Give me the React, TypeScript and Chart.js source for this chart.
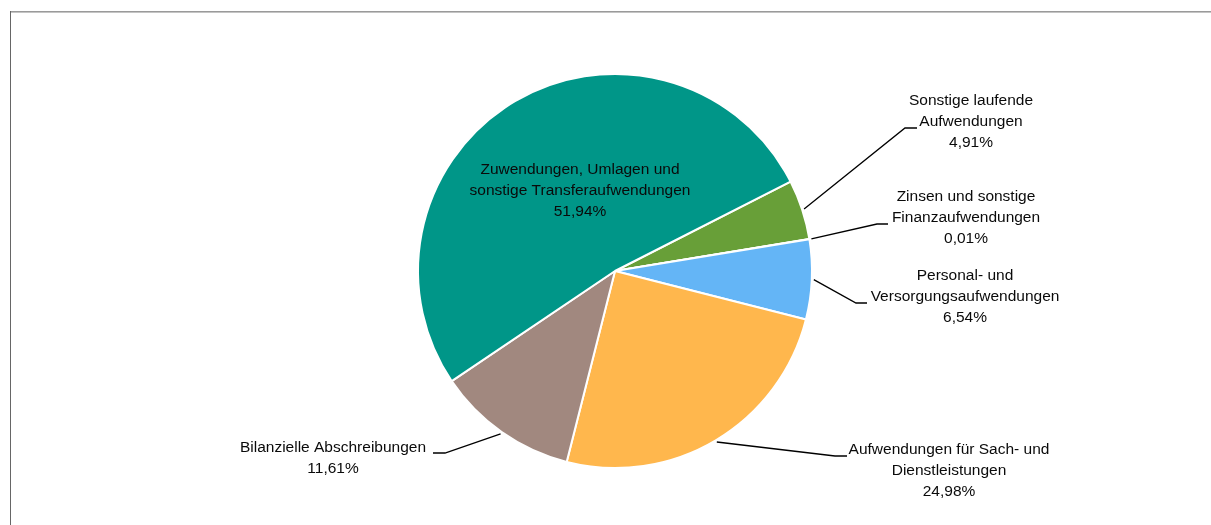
import React, { useEffect, useRef } from "react";
import { Chart, registerables } from "chart.js";

Chart.register(...registerables);

const categories = [
  "Sonstige laufende Aufwendungen",
  "Zinsen und sonstige Finanzaufwendungen",
  "Personal- und Versorgungsaufwendungen",
  "Aufwendungen für Sach- und Dienstleistungen",
  "Bilanzielle Abschreibungen",
  "Zuwendungen, Umlagen und sonstige Transferaufwendungen",
];

const labelLines = [
  ["Sonstige laufende", "Aufwendungen"],
  ["Zinsen und sonstige", "Finanzaufwendungen"],
  ["Personal- und", "Versorgungsaufwendungen"],
  ["Aufwendungen für Sach- und", "Dienstleistungen"],
  ["Bilanzielle Abschreibungen"],
  ["Zuwendungen, Umlagen und", "sonstige Transferaufwendungen"],
];

const shares = [4.91, 0.01, 6.54, 24.98, 11.61, 51.94];

const colors = ["#689F38", "#9575CD", "#64B5F6", "#FFB74D", "#A1887F", "#009688"];

// label placement: text centre x, first line centre y, elbow point, line end x (null = inside)
const labelLayout = [
  { cx: 971, y0: 101, ex: 905, ey: 128, tx: 917 },
  { cx: 966, y0: 197, ex: 877, ey: 224, tx: 888 },
  { cx: 965, y0: 276, ex: 856, ey: 303, tx: 867 },
  { cx: 949, y0: 450, ex: 835, ey: 456, tx: 847 },
  { cx: 333, y0: 448, ex: 445, ey: 453, tx: 433 },
  { cx: 580, y0: 170, ex: null, ey: null, tx: null },
];

const fmt = (v: number) => v.toFixed(2).replace(".", ",") + "%";

const framePlugin = {
  id: "frame",
  beforeDraw(chart: any) {
    const ctx = chart.ctx;
    ctx.save();
    ctx.fillStyle = "#ffffff";
    ctx.fillRect(0, 0, chart.width, chart.height);
    ctx.fillStyle = "#9a9a9a";
    ctx.fillRect(10, 11, chart.width - 10, 1);
    ctx.fillStyle = "#c4c4c4";
    ctx.fillRect(10, 12, chart.width - 10, 1);
    ctx.fillStyle = "#666666";
    ctx.fillRect(10, 11, 1, chart.height - 11);
    ctx.restore();
  },
};

const labelPlugin = {
  id: "pieLabels",
  afterDatasetsDraw(chart: any) {
    const ctx = chart.ctx;
    const meta = chart.getDatasetMeta(0);
    const values = chart.data.datasets[0].data as number[];
    ctx.save();
    ctx.font = '15.5px "Liberation Sans", Arial, sans-serif';
    ctx.fillStyle = "#0a0a0a";
    ctx.textAlign = "center";
    ctx.textBaseline = "middle";
    meta.data.forEach((arc: any, i: number) => {
      const lay = labelLayout[i];
      const lines = [...labelLines[i], fmt(values[i])];
      lines.forEach((t, k) => ctx.fillText(t, lay.cx, lay.y0 + k * 21));
      if (lay.ex !== null) {
        const { x, y, startAngle, endAngle, outerRadius } = arc.getProps(
          ["x", "y", "startAngle", "endAngle", "outerRadius"],
          true
        );
        const mid = (startAngle + endAngle) / 2;
        const r = outerRadius + 2;
        ctx.beginPath();
        ctx.strokeStyle = "#000000";
        ctx.lineWidth = 1.3;
        ctx.moveTo(x + Math.cos(mid) * r, y + Math.sin(mid) * r);
        ctx.lineTo(lay.ex, lay.ey);
        ctx.lineTo(lay.tx, lay.ey);
        ctx.stroke();
      }
    });
    ctx.restore();
  },
};

export default function App() {
  const ref = useRef<HTMLCanvasElement | null>(null);
  useEffect(() => {
    if (!ref.current) return;
    const chart = new Chart(ref.current, {
      type: "pie",
      data: {
        labels: categories,
        datasets: [
          {
            data: shares,
            backgroundColor: colors,
            borderColor: "#ffffff",
            borderWidth: 2,
            radius: 197,
          } as any,
        ],
      },
      options: {
        responsive: false,
        animation: false,
        rotation: 63,
        layout: { padding: { left: 418, right: 399, top: 74, bottom: 57 } },
        plugins: {
          legend: { display: false },
          tooltip: { enabled: false },
          title: { display: false },
        },
      },
      plugins: [framePlugin, labelPlugin],
    });
    return () => chart.destroy();
  }, []);
  return (
    <div style={{ position: "fixed", left: 0, top: 0, width: 1211, height: 525 }}>
      <canvas ref={ref} width={1211} height={525} style={{ display: "block" }} />
    </div>
  );
}
